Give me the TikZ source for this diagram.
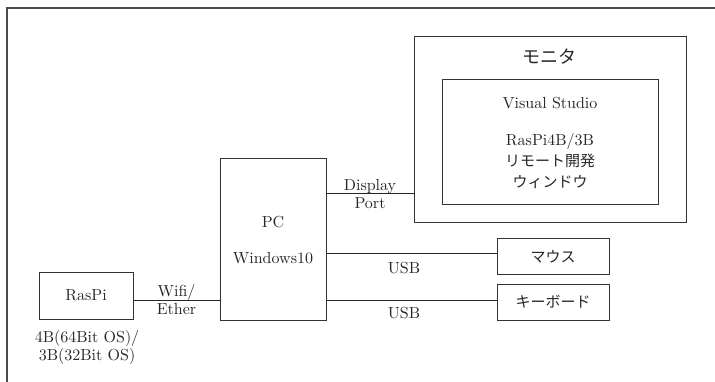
\documentclass[tikz,border=0pt]{standalone}
\usepackage{fontspec}
\setmainfont{lmroman10-regular}[Extension = .otf]
\newfontfamily\jp{Noto Sans CJK JP}
\usetikzlibrary{positioning}

\tikzset{
  box/.style = {draw = black!80, line width = 1pt, inner sep = 0pt},
  txt/.style = {text = black!85, align = center, inner sep = 0pt}
}

\begin{document}
\begin{tikzpicture}[x = 1pt, y = -1pt, line width = 1pt,
    font = \fontsize{16}{18}\selectfont]
  \useasboundingbox (0, 0) rectangle (715, 382);
  % frame
  \draw[black!70, line width = 1.5pt] (7, 382) -- (7, 8) -- (715, 8);

  % boxes
  \node[box, minimum width = 106pt, minimum height = 161pt] (pc) at (273, 239.5) {};
  \node[box, minimum width = 272pt, minimum height = 186pt] (mon) at (550, 130) {};
  \node[box, minimum width = 216pt, minimum height = 125pt] (win) at (550, 142.5) {};
  \node[box, minimum width = 112pt, minimum height = 35pt] (mouse) at (553, 256.5) {};
  \node[box, minimum width = 112pt, minimum height = 36pt] (kbd) at (553, 302) {};
  \node[box, minimum width = 94pt, minimum height = 47pt] (raspi) at (86, 295.5) {};

  % texts
  \node[txt, font = \jp\fontsize{18}{20}\selectfont] (montxt) at (549, 57) {モニタ};
  \node[txt] (vs) at (550, 103) {Visual Studio};
  \node[txt] (rp) at (550, 142) {RasPi4B/3B};
  \node[txt, font = \jp\fontsize{15}{18}\selectfont] (remote) at (550, 161) {リモート開発};
  \node[txt, font = \jp\fontsize{15}{18}\selectfont] (window) at (550, 182) {ウィンドウ};
  \node[txt] (pctxt) at (273, 222) {PC};
  \node[txt] (os) at (273, 258) {Windows10};
  \node[txt, font = \jp\fontsize{15}{18}\selectfont] (mousetxt) at (mouse) {マウス};
  \node[txt, font = \jp\fontsize{15}{18}\selectfont] (kbdtxt) at (kbd) {キーボード};
  \node[txt] (raspitxt) at (raspi) {RasPi};
  \node[txt] (model) at (87, 347) {4B(64Bit OS)/\\3B(32Bit OS)};

  % connectors
  \coordinate (dp) at (0, 194);
  \coordinate (usba) at (0, 254);
  \coordinate (usbb) at (0, 300);
  \draw[black!85] (pc.east |- dp) -- node[txt] (dptxt) {Display\\Port} (mon.west |- dp);
  \draw[black!85] (pc.east |- usba) -- (mouse.west |- usba);
  \draw[black!85] (pc.east |- usbb) -- (kbd.west |- usbb);
  \draw[black!85] (raspi.east |- usbb) -- node[txt] (net) {Wifi/\\Ether} (pc.west |- usbb);
  \node[txt] (usbatxt) at (404, 268) {USB};
  \node[txt] (usbbtxt) at (404, 313) {USB};
\end{tikzpicture}
\end{document}
